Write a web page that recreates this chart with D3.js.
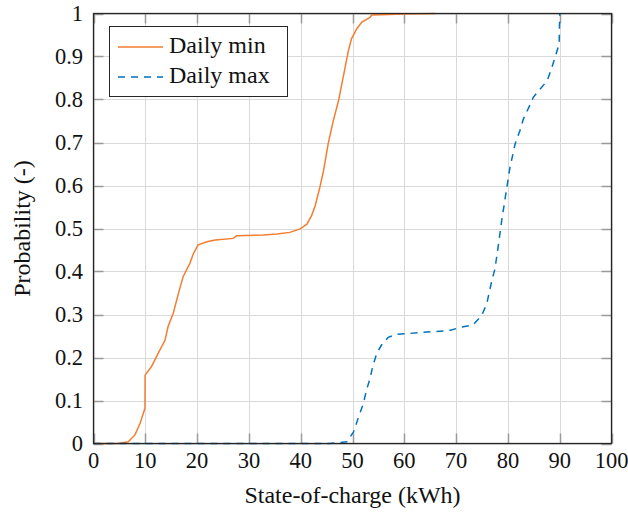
<!DOCTYPE html>
<html>
<head>
<meta charset="utf-8">
<title>SOC probability</title>
<style>
  body { margin: 0; background: #fff; }
  text { font-family: "Liberation Serif", "DejaVu Serif", serif; fill: #111; }
  .grid line { stroke: #d9d9d9; stroke-width: 1; }
</style>
</head>
<body>
<div id="chart"></div>
<script src="https://d3js.org/d3.v7.min.js"></script>
<script>
// Daily min curve (state-of-charge in kWh vs cumulative probability)
var minSoc = [0, 4.8, 6.7, 8.0, 9.0, 9.94, 9.96, 11.2, 12.5, 13.8, 14.4, 15.4, 16.4, 17.3, 18.6, 19.3, 20.2, 21.9, 23.5, 27.0, 27.6, 32.8, 35.4, 37.9, 39.9, 41.2, 42.1, 42.8, 43.7, 44.4, 45.3, 46.3, 47.3, 48.2, 49.2, 49.8, 50.8, 51.8, 53.4, 53.7, 55.6, 59.8, 65.9];
var minProb = [0, 0, 0.004, 0.02, 0.047, 0.082, 0.159, 0.179, 0.21, 0.24, 0.272, 0.303, 0.349, 0.388, 0.419, 0.442, 0.462, 0.469, 0.473, 0.477, 0.483, 0.485, 0.487, 0.491, 0.499, 0.51, 0.53, 0.553, 0.596, 0.634, 0.697, 0.751, 0.797, 0.852, 0.913, 0.941, 0.964, 0.98, 0.991, 0.9965, 0.997, 0.999, 1];
// Daily max curve
var maxSoc = [0, 45.6, 48.9, 50.2, 51.1, 52.1, 52.7, 53.4, 53.9, 54.7, 55.6, 56.9, 58.5, 61.1, 65.0, 68.5, 70.8, 73.3, 74.9, 75.9, 76.9, 77.5, 78.1, 78.8, 79.8, 80.4, 81.4, 82.3, 83.0, 83.9, 84.9, 86.2, 87.6, 88.5, 89.3, 89.9, 90.0];
var maxProb = [0, 0, 0.004, 0.027, 0.059, 0.093, 0.124, 0.152, 0.179, 0.21, 0.229, 0.247, 0.254, 0.256, 0.26, 0.262, 0.27, 0.276, 0.297, 0.324, 0.379, 0.406, 0.456, 0.518, 0.596, 0.642, 0.697, 0.727, 0.755, 0.778, 0.805, 0.824, 0.844, 0.875, 0.906, 0.929, 1];

var xTicks = [0, 10, 20, 30, 40, 50, 60, 70, 80, 90, 100];
var yTicks = [0, 0.1, 0.2, 0.3, 0.4, 0.5, 0.6, 0.7, 0.8, 0.9, 1];
var seriesNames = ["Daily min", "Daily max"];

var minColor = "#f47d30";
var maxColor = "#0072bd";
var dash = "7,6";

var width = 628, height = 513;
var pLeft = 93.5, pRight = 611.5, pTop = 13.5, pBottom = 443.5;

var svg = d3.select("#chart").append("svg")
  .attr("width", width).attr("height", height);

var x = d3.scaleLinear().domain([0, 100]).range([pLeft, pRight]);
var y = d3.scaleLinear().domain([0, 1]).range([pBottom, pTop]);

// grid
var grid = svg.append("g").attr("class", "grid");
grid.selectAll(".gx").data(xTicks).enter().append("line")
  .attr("x1", function(d){ return Math.round(x(d)) + 0.5; })
  .attr("x2", function(d){ return Math.round(x(d)) + 0.5; })
  .attr("y1", pTop).attr("y2", pBottom);
grid.selectAll(".gy").data(yTicks).enter().append("line")
  .attr("y1", function(d){ return Math.round(y(d)) + 0.5; })
  .attr("y2", function(d){ return Math.round(y(d)) + 0.5; })
  .attr("x1", pLeft).attr("x2", pRight);

// inward ticks on all four sides
var tickLen = 10;
var ticks = svg.append("g").attr("stroke", "#9a9a9a").attr("stroke-width", 1.5);
xTicks.forEach(function(d){
  var px = Math.round(x(d)) + 0.5;
  ticks.append("line").attr("x1", px).attr("x2", px).attr("y1", pBottom).attr("y2", pBottom - tickLen);
  ticks.append("line").attr("x1", px).attr("x2", px).attr("y1", pTop).attr("y2", pTop + tickLen);
});
yTicks.forEach(function(d){
  var py = Math.round(y(d)) + 0.5;
  ticks.append("line").attr("y1", py).attr("y2", py).attr("x1", pLeft).attr("x2", pLeft + tickLen);
  ticks.append("line").attr("y1", py).attr("y2", py).attr("x1", pRight).attr("x2", pRight - tickLen);
});

// curves
var line = d3.line()
  .x(function(d){ return x(d[0]); })
  .y(function(d){ return y(d[1]); });

svg.append("path")
  .datum(d3.zip(minSoc, minProb))
  .attr("d", line)
  .attr("fill", "none")
  .attr("stroke", minColor)
  .attr("stroke-width", 1.5);

svg.append("path")
  .datum(d3.zip(maxSoc, maxProb))
  .attr("d", line)
  .attr("fill", "none")
  .attr("stroke", maxColor)
  .attr("stroke-width", 1.5)
  .attr("stroke-dasharray", dash);

// frame
svg.append("rect")
  .attr("x", pLeft).attr("y", pTop)
  .attr("width", pRight - pLeft).attr("height", pBottom - pTop)
  .attr("fill", "none").attr("stroke", "#262626").attr("stroke-width", 1.3);

// tick labels
svg.append("g").selectAll("text").data(xTicks).enter().append("text")
  .attr("x", function(d){ return x(d); })
  .attr("y", 468)
  .attr("text-anchor", "middle")
  .style("font-size", "22.5px")
  .text(function(d){ return d; });

svg.append("g").selectAll("text").data(yTicks).enter().append("text")
  .attr("x", 83)
  .attr("y", function(d){ return y(d); })
  .attr("dy", "0.33em")
  .attr("text-anchor", "end")
  .style("font-size", "22.5px")
  .text(function(d){ return d; });

// axis titles
svg.append("text")
  .attr("x", (pLeft + pRight) / 2).attr("y", 503)
  .attr("text-anchor", "middle")
  .style("font-size", "24px")
  .text("State-of-charge (kWh)");

svg.append("text")
  .attr("transform", "translate(30," + ((pTop + pBottom) / 2) + ") rotate(-90)")
  .attr("text-anchor", "middle")
  .style("font-size", "24px")
  .text("Probability (-)");

// legend
var legend = svg.append("g");
legend.append("rect")
  .attr("x", 109.5).attr("y", 26.5).attr("width", 178).attr("height", 70)
  .attr("fill", "#fff").attr("stroke", "#262626").attr("stroke-width", 1);
var legColors = [minColor, maxColor];
var legDash = [null, dash];
seriesNames.forEach(function(name, i){
  var ly = 47 + i * 30;
  legend.append("line")
    .attr("x1", 118).attr("x2", 163).attr("y1", ly).attr("y2", ly)
    .attr("stroke", legColors[i]).attr("stroke-width", 1.5)
    .attr("stroke-dasharray", legDash[i]);
  legend.append("text")
    .attr("x", 169).attr("y", ly + 6)
    .style("font-size", "24px")
    .text(name);
});
</script>
</body>
</html>
